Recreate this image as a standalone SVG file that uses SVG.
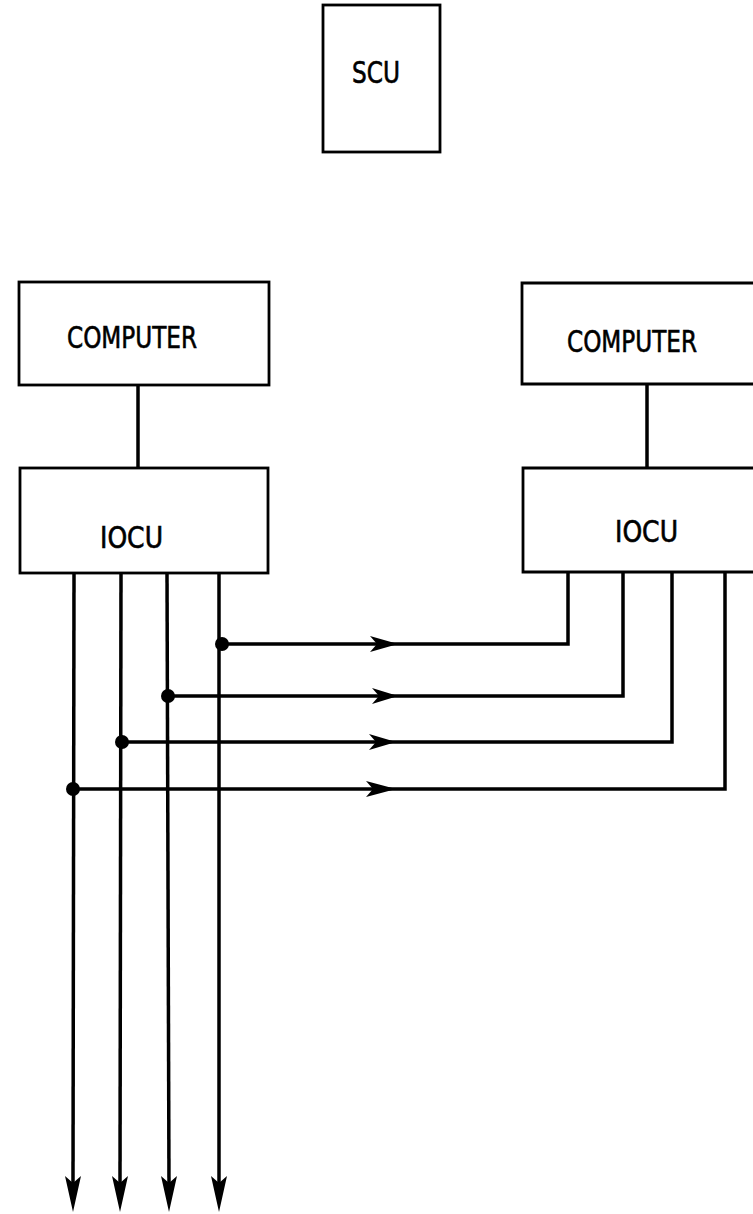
<svg xmlns="http://www.w3.org/2000/svg" width="753" height="1214" viewBox="0 0 753 1214">
<style>
.box{fill:none;stroke:#000;stroke-width:2.8}
.lbl{font-family:"DejaVu Sans Condensed","DejaVu Sans","Liberation Sans",sans-serif;font-size:30px;fill:#000;stroke:#000;stroke-width:0.6}
.ln{fill:none;stroke:#000;stroke-width:3.5}
.dot{fill:#000}
.ah{fill:#000}
</style>
<rect width="753" height="1214" fill="#fff"/>
<g id="scu">
<rect class="box" x="323" y="5" width="117" height="147"/>
<text class="lbl" x="352" y="83" textLength="48" lengthAdjust="spacingAndGlyphs">SCU</text>
</g>
<g id="computer-left">
<rect class="box" x="19" y="282" width="250" height="103"/>
<text class="lbl" x="67" y="348" textLength="130" lengthAdjust="spacingAndGlyphs">COMPUTER</text>
</g>
<g id="iocu-left">
<rect class="box" x="20" y="468" width="248" height="105"/>
<text class="lbl" x="100" y="548" textLength="63" lengthAdjust="spacingAndGlyphs">IOCU</text>
</g>
<g id="computer-right">
<path class="box" d="M760,283 H522 V384 H760"/>
<text class="lbl" x="567" y="352" textLength="130" lengthAdjust="spacingAndGlyphs">COMPUTER</text>
</g>
<g id="iocu-right">
<path class="box" d="M760,468 H523 V572 H760"/>
<text class="lbl" x="615" y="542" textLength="63" lengthAdjust="spacingAndGlyphs">IOCU</text>
</g>
<g id="connectors">
<line class="ln" x1="138" y1="385" x2="138" y2="468"/>
<line class="ln" x1="647" y1="384" x2="647" y2="468"/>
<line class="ln" x1="74" y1="573" x2="73" y2="1185"/>
<line class="ln" x1="121" y1="573" x2="120" y2="1185"/>
<line class="ln" x1="167" y1="573" x2="169" y2="1185"/>
<line class="ln" x1="219" y1="573" x2="219" y2="1185"/>
<path class="ah" d="M73,1212 L65,1176 L73,1183 L81,1176 Z"/>
<path class="ah" d="M120,1212 L112,1176 L120,1183 L128,1176 Z"/>
<path class="ah" d="M169,1212 L161,1176 L169,1183 L177,1176 Z"/>
<path class="ah" d="M219,1212 L211,1176 L219,1183 L227,1176 Z"/>
<path class="ln" d="M222,644 H568 V572"/>
<path class="ln" d="M168,696 H623 V572"/>
<path class="ln" d="M122,742 H672 V572"/>
<path class="ln" d="M73,789 H725 V572"/>
<circle class="dot" cx="222" cy="644" r="7"/>
<circle class="dot" cx="168" cy="696" r="7"/>
<circle class="dot" cx="122" cy="742" r="7"/>
<circle class="dot" cx="73" cy="789" r="7"/>
<path class="ah" d="M398,644 L370,636 L377,644 L370,652 Z"/>
<path class="ah" d="M398,696 L372,688 L379,696 L372,704 Z"/>
<path class="ah" d="M396,742 L369,734 L376,742 L369,750 Z"/>
<path class="ah" d="M396,789 L366,781 L373,789 L366,797 Z"/>
</g>
</svg>
